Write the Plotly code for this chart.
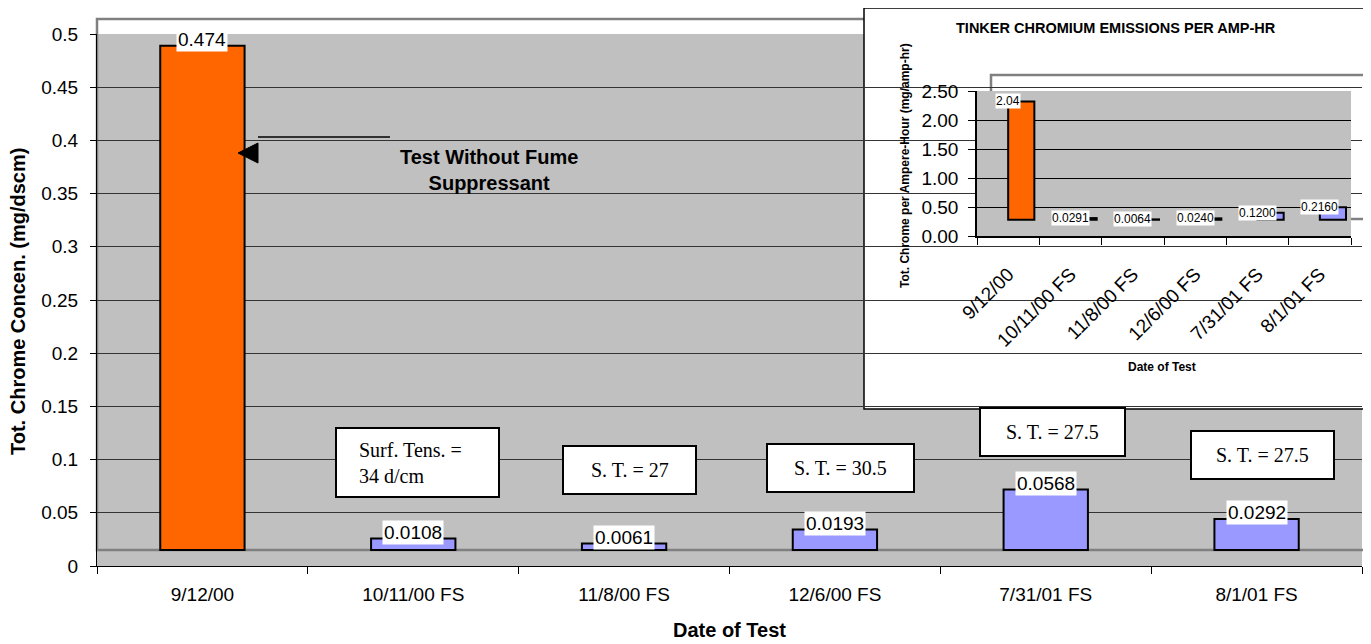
import plotly.graph_objects as go

# ---------------- data ----------------
CATEGORIES = ["9/12/00", "10/11/00 FS", "11/8/00 FS", "12/6/00 FS", "7/31/01 FS", "8/1/01 FS"]
CONC = [0.474, 0.0108, 0.0061, 0.0193, 0.0568, 0.0292]
CONC_LABELS = ["0.474", "0.0108", "0.0061", "0.0193", "0.0568", "0.0292"]
PER_AMP = [2.04, 0.0291, 0.0064, 0.0240, 0.1200, 0.2160]
PER_AMP_LABELS = ["2.04", "0.0291", "0.0064", "0.0240", "0.1200", "0.2160"]
SURF_TENSION_NOTES = ["Surf. Tens. =<br>34 d/cm", "S. T. = 27", "S. T. = 30.5", "S. T. = 27.5", "S. T. = 27.5"]
MAIN_Y_TICKS = [0, 0.05, 0.1, 0.15, 0.2, 0.25, 0.3, 0.35, 0.4, 0.45, 0.5]
MAIN_Y_TICKTEXT = ["0", "0.05", "0.1", "0.15", "0.2", "0.25", "0.3", "0.35", "0.4", "0.45", "0.5"]
INSET_Y_TICKS = [0.0, 0.5, 1.0, 1.5, 2.0, 2.5]
INSET_Y_TICKTEXT = ["0.00", "0.50", "1.00", "1.50", "2.00", "2.50"]
BAR_COLORS = ["#FF6600", "#9999FF", "#9999FF", "#9999FF", "#9999FF", "#9999FF"]

# ---------------- style / layout constants ----------------
W, H = 1371, 644
OFF = 8                 # page body margin
MAIN_FLOOR = 0.015      # pseudo-3D floor offset of Excel chart
INSET_FLOOR = 0.28
GRAY_BG = "#C0C0C0"
WALL = "#808080"


def px(x):
    return (x - OFF) / W


def py(y):
    return 1 - (y - OFF) / H


# inset axis pixel box (screen pixels)
IX0, IX1, IY_TOP, IY_BOT = 977, 1351, 91, 236


def ix(x):
    return (x - IX0) / (IX1 - IX0)


def iy(y):
    return (IY_BOT - y) / (IY_BOT - IY_TOP)


fig = go.Figure()

fig.add_trace(go.Bar(
    x=CATEGORIES, y=CONC, base=[MAIN_FLOOR] * len(CONC),
    marker=dict(color=BAR_COLORS, line=dict(color="black", width=2)),
    width=0.4, xaxis="x", yaxis="y", showlegend=False, hoverinfo="skip",
))

fig.add_trace(go.Bar(
    x=CATEGORIES, y=PER_AMP, base=[INSET_FLOOR] * len(PER_AMP),
    marker=dict(color=BAR_COLORS, line=dict(color="black", width=2)),
    width=0.42, offset=0, xaxis="x2", yaxis="y2", showlegend=False, hoverinfo="skip",
))

shapes = []
# main chart pseudo-3D wall outline
shapes.append(dict(type="rect", xref="paper", yref="paper", x0=px(97), x1=px(1395),
                   y0=py(550), y1=py(19), line=dict(color=WALL, width=2.5), layer="below"))

# inset white panel (drawn in inset subplot layer so it hides the main chart beneath)
shapes.append(dict(type="rect", xref="x2 domain", yref="y2 domain",
                   x0=ix(864), x1=ix(1400), y0=iy(409), y1=iy(8),
                   fillcolor="white", line=dict(color="black", width=1.5), layer="below"))
shapes.append(dict(type="rect", xref="x2 domain", yref="y2 domain",
                   x0=0, x1=1, y0=0, y1=1,
                   fillcolor=GRAY_BG, line=dict(width=0), layer="below"))
shapes.append(dict(type="rect", xref="x2 domain", yref="y2 domain",
                   x0=ix(991), x1=ix(1366), y0=iy(219), y1=iy(75),
                   line=dict(color=WALL, width=2.5), layer="below"))

# arrow pointing at the first bar
shapes.append(dict(type="line", xref="paper", yref="paper", x0=px(258), x1=px(390),
                   y0=py(137), y1=py(137), line=dict(color="black", width=1.5), layer="above"))
shapes.append(dict(type="path", xref="paper", yref="paper",
                   path=f"M {px(238)} {py(153)} L {px(258)} {py(143)} L {px(258)} {py(163)} Z",
                   fillcolor="black", line=dict(color="black", width=1), layer="above"))

# surface-tension note boxes
NOTE_BOXES = [(336, 499, 428, 497), (563, 696, 446, 494), (767, 914, 444, 492),
              (980, 1125, 408, 456), (1191, 1334, 431, 479)]
for (x0, x1, y0, y1) in NOTE_BOXES:
    shapes.append(dict(type="rect", xref="paper", yref="paper", x0=px(x0), x1=px(x1),
                       y0=py(y1), y1=py(y0), fillcolor="white",
                       line=dict(color="black", width=2), layer="above"))

annotations = []
# value labels, main chart
for cat, v, lab in zip(CATEGORIES, CONC, CONC_LABELS):
    annotations.append(dict(x=cat, y=MAIN_FLOOR + v, xref="x", yref="y", text=lab,
                            showarrow=False, xanchor="center", yanchor="bottom", yshift=-6,
                            bgcolor="white", borderpad=1,
                            font=dict(family="Arial, Liberation Sans", size=19, color="black")))
# value labels, inset
for cat, v, lab in zip(CATEGORIES, PER_AMP, PER_AMP_LABELS):
    annotations.append(dict(x=cat, y=INSET_FLOOR + v, xref="x2", yref="y2", text=lab,
                            showarrow=False, xanchor="center", yanchor="middle",
                            bgcolor="white", borderpad=0,
                            font=dict(family="Arial, Liberation Sans", size=12, color="black")))

# note texts
for i, (note, (x0, x1, y0, y1)) in enumerate(zip(SURF_TENSION_NOTES, NOTE_BOXES)):
    if i == 0:
        annotations.append(dict(x=px(357), y=py((y0 + y1) / 2), xref="paper", yref="paper",
                                text=note, showarrow=False, xanchor="left", yanchor="middle",
                                align="left",
                                font=dict(family="Times New Roman, Liberation Serif", size=20, color="black")))
    else:
        annotations.append(dict(x=px((x0 + x1) / 2), y=py((y0 + y1) / 2), xref="paper", yref="paper",
                                text=note, showarrow=False, xanchor="center", yanchor="middle",
                                font=dict(family="Times New Roman, Liberation Serif", size=20, color="black")))

annotations += [
    dict(x=px(489), y=py(170), xref="paper", yref="paper",
         text="<b>Test Without Fume<br>Suppressant</b>", showarrow=False,
         xanchor="center", yanchor="middle", align="center",
         font=dict(family="Arial, Liberation Sans", size=20, color="black")),
    dict(x=px(18), y=py(302), xref="paper", yref="paper",
         text="<b>Tot. Chrome Concen. (mg/dscm)</b>", showarrow=False, textangle=-90,
         xanchor="center", yanchor="middle",
         font=dict(family="Arial, Liberation Sans", size=20, color="black")),
    dict(x=px(729), y=py(630), xref="paper", yref="paper",
         text="<b>Date of Test</b>", showarrow=False, xanchor="center", yanchor="middle",
         font=dict(family="Arial, Liberation Sans", size=20, color="black")),
    dict(x=px(1116), y=py(28), xref="paper", yref="paper",
         text="<b>TINKER CHROMIUM EMISSIONS PER AMP-HR</b>", showarrow=False,
         xanchor="center", yanchor="middle",
         font=dict(family="Arial, Liberation Sans", size=14.5, color="black")),
    dict(x=px(905), y=py(166), xref="paper", yref="paper",
         text="<b>Tot. Chrome per Ampere-Hour (mg/amp-hr)</b>", showarrow=False, textangle=-90,
         xanchor="center", yanchor="middle",
         font=dict(family="Arial, Liberation Sans", size=12, color="black")),
    dict(x=px(1162), y=py(367), xref="paper", yref="paper",
         text="<b>Date of Test</b>", showarrow=False, xanchor="center", yanchor="middle",
         font=dict(family="Arial, Liberation Sans", size=12, color="black")),
]

TICKFONT = dict(family="Arial, Liberation Sans", size=19, color="black")

fig.update_layout(
    width=W, height=H,
    autosize=False,
    margin=dict(l=0, r=0, t=0, b=0, pad=0, autoexpand=False),
    paper_bgcolor="white", plot_bgcolor=GRAY_BG,
    bargap=0.6, barmode="overlay",
    xaxis=dict(domain=[px(97), px(1362)], type="category", categoryarray=CATEGORIES,
               tickson="boundaries", ticks="outside", ticklen=7, tickcolor="black", tickwidth=1,
               showline=True, linecolor="black", linewidth=1, showgrid=False, automargin=False,
               tickfont=TICKFONT, ticklabelstandoff=11, anchor="y", fixedrange=True),
    yaxis=dict(domain=[py(566), py(34)], range=[0, 0.5], tickvals=MAIN_Y_TICKS,
               ticktext=MAIN_Y_TICKTEXT, ticks="outside", ticklen=6, tickcolor="black",
               showline=True, linecolor="black", linewidth=1, showgrid=True, automargin=False,
               gridcolor="#333333", gridwidth=1, zeroline=False,
               tickfont=TICKFONT, ticklabelstandoff=8, anchor="x", fixedrange=True),
    xaxis2=dict(domain=[px(IX0), px(IX1)], type="category", categoryarray=CATEGORIES,
                tickson="boundaries", ticks="outside", ticklen=7, tickcolor="black",
                showline=True, linecolor="black", linewidth=1.5, showgrid=False, automargin=False,
                tickangle=-45, tickfont=dict(family="Arial, Liberation Sans", size=19, color="black"),
                ticklabelstandoff=18, anchor="y2", fixedrange=True),
    yaxis2=dict(domain=[py(IY_BOT), py(IY_TOP)], range=[0, 2.5], tickvals=INSET_Y_TICKS,
                ticktext=INSET_Y_TICKTEXT, ticks="outside", ticklen=7, tickcolor="black",
                showline=True, linecolor="black", linewidth=1.5, showgrid=True, automargin=False,
                gridcolor="black", gridwidth=1, zeroline=False,
                tickfont=TICKFONT, ticklabelstandoff=6, anchor="x2", fixedrange=True),
    shapes=shapes,
    annotations=annotations,
)

fig.write_html("out.html")
